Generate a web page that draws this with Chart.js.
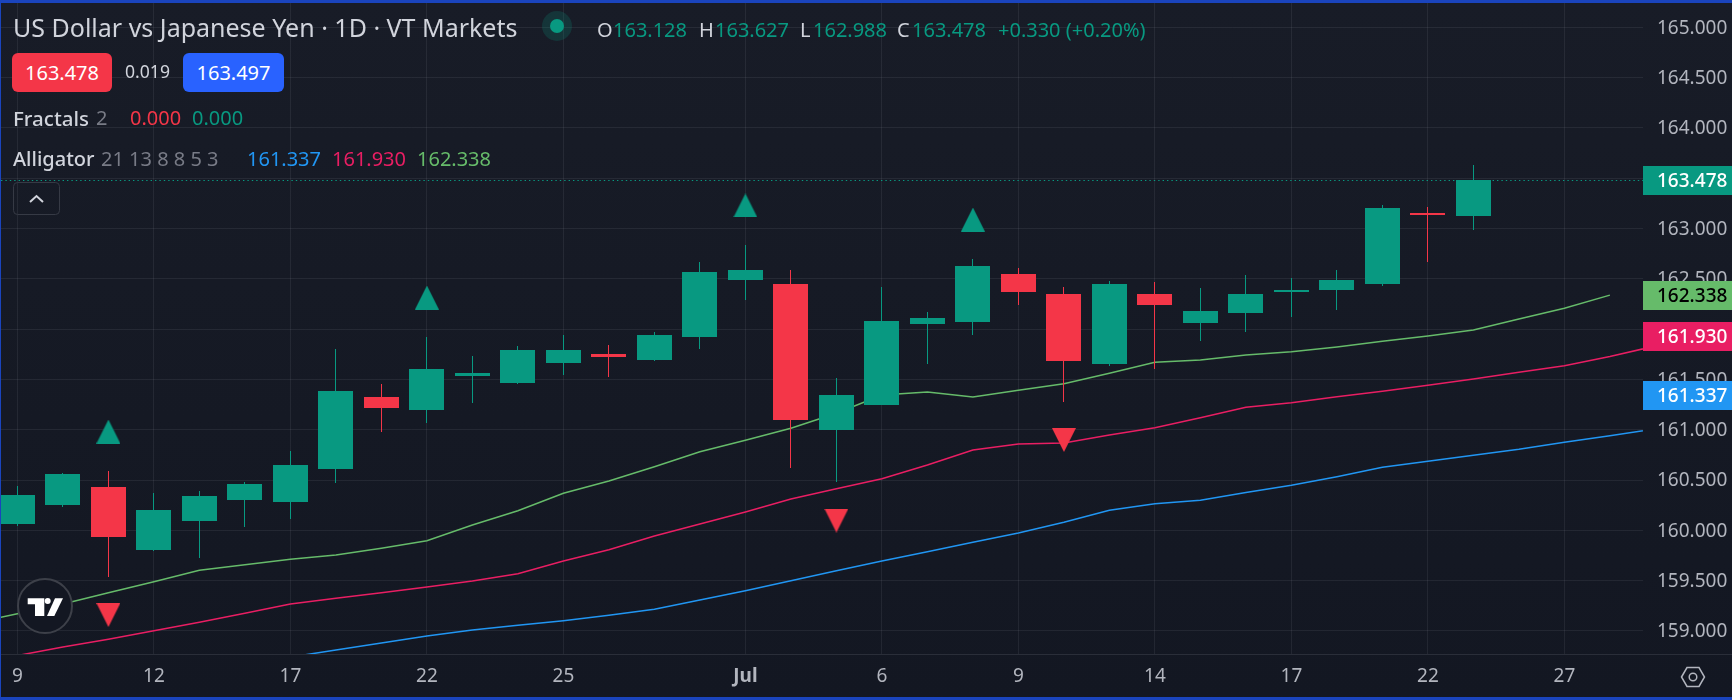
<!DOCTYPE html>
<html>
<head>
<meta charset="utf-8">
<title>USDJPY 1D</title>
<script src="https://cdn.jsdelivr.net/npm/chart.js@4/dist/chart.umd.js"></script>
<style>
  html, body { margin: 0; padding: 0; width: 1732px; height: 700px; overflow: hidden; }
  body { background: linear-gradient(#181c27, #131722); position: relative; font-family: "Noto Sans", sans-serif; }
  #chart { position: absolute; left: 0; top: 0; }
  .frame { position: absolute; background: #1a44bd; }
  .t { position: absolute; white-space: nowrap; line-height: 1; transform: translateY(-50%); color: #d1d4dc; font-size: 20px; }
  .box { position: absolute; top: 53px; width: 100px; height: 39px; border-radius: 6px; color: #fff; font-size: 20px; line-height: 39px; text-align: center; }
  .up { color: #089981; }
  .grey { color: #787b86; }
  .name { font-weight: 500; font-size: 20px; }
  svg { position: absolute; overflow: visible; }
</style>
</head>
<body>
<canvas id="chart" width="1732" height="700"></canvas>

<div class="frame" style="left:0;top:0;width:1732px;height:3px"></div>
<div class="frame" style="left:0;top:697px;width:1732px;height:3px"></div>
<div class="frame" style="left:0;top:0;width:1px;height:700px"></div>

<div class="t" style="left:13px;top:27px;font-size:25px">US Dollar vs Japanese Yen · 1D · VT Markets</div>
<svg style="left:0;top:0" width="1" height="1">
  <circle cx="557" cy="26" r="15" fill="#089981" fill-opacity="0.2"/>
  <circle cx="557" cy="26" r="7" fill="#089981"/>
</svg>
<div class="t" style="left:597px;top:30px">O</div><div class="t up" style="left:613px;top:30px">163.128</div>
<div class="t" style="left:699px;top:30px">H</div><div class="t up" style="left:715px;top:30px">163.627</div>
<div class="t" style="left:800px;top:30px">L</div><div class="t up" style="left:813px;top:30px">162.988</div>
<div class="t" style="left:897px;top:30px">C</div><div class="t up" style="left:912px;top:30px">163.478</div>
<div class="t up" style="left:998px;top:30px">+0.330 (+0.20%)</div>

<div class="box" style="left:12px;background:#f43648">163.478</div>
<div class="t" style="left:125px;top:72px;font-size:17.6px">0.019</div>
<div class="box" style="left:183px;width:101px;background:#2962ff">163.497</div>

<div class="t name" style="left:13px;top:118px;font-size:20.5px">Fractals</div>
<div class="t grey" style="left:96px;top:118px">2</div>
<div class="t" style="left:130px;top:118px;color:#f43648">0.000</div>
<div class="t up" style="left:192px;top:118px">0.000</div>

<div class="t name" style="left:13px;top:159px">Alligator</div>
<div class="t grey" style="left:101px;top:159px">21 13 8 8 5 3</div>
<div class="t" style="left:247px;top:159px;color:#2196f3">161.337</div>
<div class="t" style="left:332px;top:159px;color:#e91e63">161.930</div>
<div class="t" style="left:417px;top:159px;color:#66bb6a">162.338</div>

<svg style="left:0;top:0" width="1" height="1">
  <rect x="13.5" y="182.5" width="46" height="32" rx="4" fill="none" stroke="#363a45"/>
  <polyline points="30,202 36.5,196 43,202" fill="none" stroke="#d1d4dc" stroke-width="2"/>
  <circle cx="45" cy="606" r="27" fill="#131722" stroke="#3d4049" stroke-width="2"/>
  <path d="M27.7 598.3H44.3V616H35V604.3H27.7Z" fill="#fff"/>
  <circle cx="47.7" cy="601" r="3" fill="#fff"/>
  <path d="M55 598.3H63L54.3 616H47Z" fill="#fff"/>
  <path d="M1681.5 677L1687 667.5H1699L1704.5 677L1699 686.5H1687Z" fill="none" stroke="#b2b5be" stroke-width="1.5"/>
  <circle cx="1693" cy="677" r="3.8" fill="none" stroke="#b2b5be" stroke-width="1.5"/>
</svg>

<script>
const candleOpen = [160.063,160.251,160.430,159.804,160.092,160.301,160.281,160.609,161.325,161.196,161.534,161.464,161.663,161.752,161.693,161.921,162.488,162.448,160.997,161.246,162.051,162.071,162.548,162.349,161.653,162.349,162.061,162.160,162.369,162.389,162.448,163.154,163.128];
const candleHigh = [160.440,160.567,160.589,160.371,160.391,160.480,160.788,161.802,161.454,161.921,161.733,161.832,161.941,161.842,161.971,162.667,162.836,162.587,161.514,162.418,162.170,162.697,162.607,162.418,162.478,162.468,162.409,162.538,162.508,162.587,163.234,163.214,163.627];
const candleLow = [160.043,160.232,159.539,159.797,159.725,160.033,160.112,160.470,160.977,161.067,161.265,161.454,161.544,161.524,161.683,161.802,162.289,160.619,160.480,161.246,161.653,161.941,162.240,161.275,161.633,161.603,161.882,161.971,162.120,162.190,162.428,162.667,162.988];
const candleClose = [160.351,160.560,159.933,160.202,160.341,160.460,160.649,161.385,161.216,161.603,161.564,161.792,161.792,161.723,161.941,162.568,162.587,161.096,161.345,162.081,162.110,162.627,162.369,161.683,162.448,162.240,162.180,162.349,162.389,162.488,163.204,163.134,163.478];

// alligator lines, each one starts at its own bar index
const lipsStart = -1;
const lipsValues = [159.073,159.171,159.267,159.380,159.489,159.602,159.658,159.712,159.754,159.821,159.897,160.053,160.195,160.368,160.490,160.632,160.781,160.895,161.014,161.163,161.345,161.375,161.325,161.392,161.457,161.561,161.670,161.693,161.743,161.775,161.822,161.879,161.931,161.991,162.100,162.207,162.338];
const teethStart = 0;
const teethValues = [158.755,158.840,158.917,159.002,159.085,159.175,159.267,159.324,159.380,159.436,159.496,159.569,159.695,159.807,159.943,160.063,160.182,160.311,160.413,160.513,160.649,160.798,160.858,160.868,160.947,161.020,161.119,161.223,161.268,161.328,161.382,161.441,161.504,161.571,161.636,161.728,161.832,161.930];
const jawStart = 6;
const jawValues = [158.740,158.810,158.880,158.949,159.009,159.056,159.101,159.155,159.215,159.307,159.400,159.499,159.598,159.695,159.787,159.881,159.973,160.080,160.199,160.264,160.298,160.376,160.447,160.533,160.626,160.686,160.746,160.805,160.875,160.940,161.007,161.090,161.170,161.250,161.337];

const fractalUpIndex = [2, 9, 16, 21];
const fractalUpValues = [160.982, 162.314, 163.229, 163.089];
const fractalDownIndex = [2, 18, 23];
const fractalDownValues = [159.158, 160.097, 160.898];

const dateTickIndex = [0, 3, 6, 9, 12, 16, 19, 22, 25, 28, 31, 34];
const dateTickLabels = ['9', '12', '17', '22', '25', 'Jul', '6', '9', '14', '17', '22', '27'];
const priceTicks = [159, 159.5, 160, 160.5, 161, 161.5, 162, 162.5, 163, 163.5, 164, 164.5, 165];

const lastPrice = 163.478;
const priceTagValues = [163.478, 162.338, 161.930, 161.337];
const priceTagColors = ['#089981', '#66bb6a', '#e91e63', '#2196f3'];
const priceTagText = ['#ffffff', '#000000', '#ffffff', '#ffffff'];

const UP = '#089981';
const DOWN = '#f43648';
const FONT = '"Noto Sans", sans-serif';

const candleColors = candleOpen.map((o, i) => candleClose[i] >= o ? UP : DOWN);

function triangleMarker(color, pointingUp) {
    const c = document.createElement('canvas');
    c.width = 24;
    c.height = 24;
    const g = c.getContext('2d');
    g.fillStyle = color;
    g.beginPath();
    if (pointingUp) {
        g.moveTo(12, 0); g.lineTo(24, 24); g.lineTo(0, 24);
    } else {
        g.moveTo(0, 0); g.lineTo(24, 0); g.lineTo(12, 24);
    }
    g.closePath();
    g.fill();
    return c;
}

function lineSet(start, values, color) {
    return {
        type: 'line',
        data: values.map((v, k) => ({ x: start + k, y: v })),
        borderColor: color,
        borderWidth: 1.5,
        pointRadius: 0,
        tension: 0,
        order: 3,
    };
}

// the layout reserves room for half a tick label at the ends, not wanted here
function noLabelMargins(scale) {
    scale.paddingLeft = 0;
    scale.paddingRight = 0;
    scale.paddingTop = 0;
    scale.paddingBottom = 0;
}

// bars sit on whole pixels like the original, otherwise the 1px wicks go blurry
const snapBars = {
    id: 'snapBars',
    beforeDatasetsDraw(chart) {
        chart.data.datasets.forEach((ds, i) => {
            if (ds.type !== 'bar') return;
            chart.getDatasetMeta(i).data.forEach(el => {
                el.x = Math.floor(el.x) + 0.5;
                el.y = Math.round(el.y);
                el.base = Math.round(el.base);
            });
        });
    },
};

const priceLine = {
    id: 'priceLine',
    beforeDatasetsDraw(chart) {
        const { ctx, chartArea, scales } = chart;
        const y = Math.floor(scales.y.getPixelForValue(lastPrice)) + 0.5;
        ctx.save();
        ctx.strokeStyle = UP;
        ctx.lineWidth = 1;
        ctx.setLineDash([1.4, 3]);
        ctx.beginPath();
        ctx.moveTo(chartArea.left, y);
        ctx.lineTo(chartArea.right, y);
        ctx.stroke();
        ctx.restore();
    },
};

const priceTags = {
    id: 'priceTags',
    afterDraw(chart) {
        const { ctx, chartArea, scales, width } = chart;
        ctx.save();
        // axis line runs under the price scale too
        ctx.fillStyle = '#2a2e39';
        ctx.fillRect(0, chartArea.bottom, width, 1);
        ctx.font = '500 19px ' + FONT;
        ctx.textBaseline = 'middle';
        ctx.textAlign = 'left';
        priceTagValues.forEach((v, i) => {
            const y = scales.y.getPixelForValue(v);
            const top = Math.round(y - 14.5);
            ctx.fillStyle = priceTagColors[i];
            ctx.fillRect(chartArea.right, top, width - chartArea.right, 29);
            ctx.fillStyle = priceTagText[i];
            ctx.fillText(v.toFixed(3), chartArea.right + 14, top + 16);
        });
        ctx.restore();
    },
};

new Chart(document.getElementById('chart'), {
    type: 'bar',
    data: {
        datasets: [
            lineSet(lipsStart, lipsValues, '#66bb6a'),
            lineSet(teethStart, teethValues, '#e91e63'),
            lineSet(jawStart, jawValues, '#2196f3'),
            {
                type: 'bar',
                data: candleHigh.map((h, i) => ({ x: i, y: [candleLow[i], h] })),
                backgroundColor: candleColors,
                barThickness: 1,
                grouped: false,
                inflateAmount: 0,
                order: 2,
            },
            {
                type: 'bar',
                data: candleOpen.map((o, i) => ({ x: i, y: [o, candleClose[i]] })),
                backgroundColor: candleColors,
                barThickness: 35,
                grouped: false,
                inflateAmount: 0,
                order: 1,
            },
            {
                type: 'line',
                showLine: false,
                data: fractalUpIndex.map((x, i) => ({ x, y: fractalUpValues[i] })),
                pointStyle: triangleMarker(UP, true),
                order: 0,
            },
            {
                type: 'line',
                showLine: false,
                data: fractalDownIndex.map((x, i) => ({ x, y: fractalDownValues[i] })),
                pointStyle: triangleMarker(DOWN, false),
                order: 0,
            },
        ],
    },
    plugins: [snapBars, priceLine, priceTags],
    options: {
        responsive: false,
        animation: false,
        events: [],
        layout: { autoPadding: false, padding: { left: 1, top: 3, bottom: 3, right: 0 } },
        plugins: { legend: { display: false }, tooltip: { enabled: false } },
        scales: {
            x: {
                type: 'linear',
                offset: false,
                min: -0.3604,
                max: 35.7275,
                grid: { offset: false, color: 'rgba(240,243,250,0.07)', drawTicks: false },
                border: { display: false },
                afterBuildTicks(scale) {
                    scale.ticks = dateTickIndex.map(v => ({ value: v }));
                },
                afterFit(scale) {
                    scale.height = 43;
                    noLabelMargins(scale);
                },
                ticks: {
                    autoSkip: false,
                    maxRotation: 0,
                    padding: 11,
                    color: '#b2b5be',
                    font: ctx => ({ family: FONT, size: 19, weight: ctx.tick && ctx.tick.label === 'Jul' ? 'bold' : 'normal' }),
                    callback: (value, index) => dateTickLabels[index],
                },
            },
            y: {
                position: 'right',
                min: 158.7705,
                max: 165.2416,
                grid: { color: 'rgba(240,243,250,0.07)', drawTicks: false },
                border: { display: false },
                afterBuildTicks(scale) {
                    scale.ticks = priceTicks.map(v => ({ value: v }));
                },
                afterFit(scale) {
                    scale.width = 89;
                    noLabelMargins(scale);
                },
                ticks: {
                    padding: 14,
                    labelOffset: 1,
                    crossAlign: 'near',
                    color: '#b2b5be',
                    font: { family: FONT, size: 19 },
                    callback: value => value.toFixed(3),
                },
            },
        },
    },
});
</script>
</body>
</html>
